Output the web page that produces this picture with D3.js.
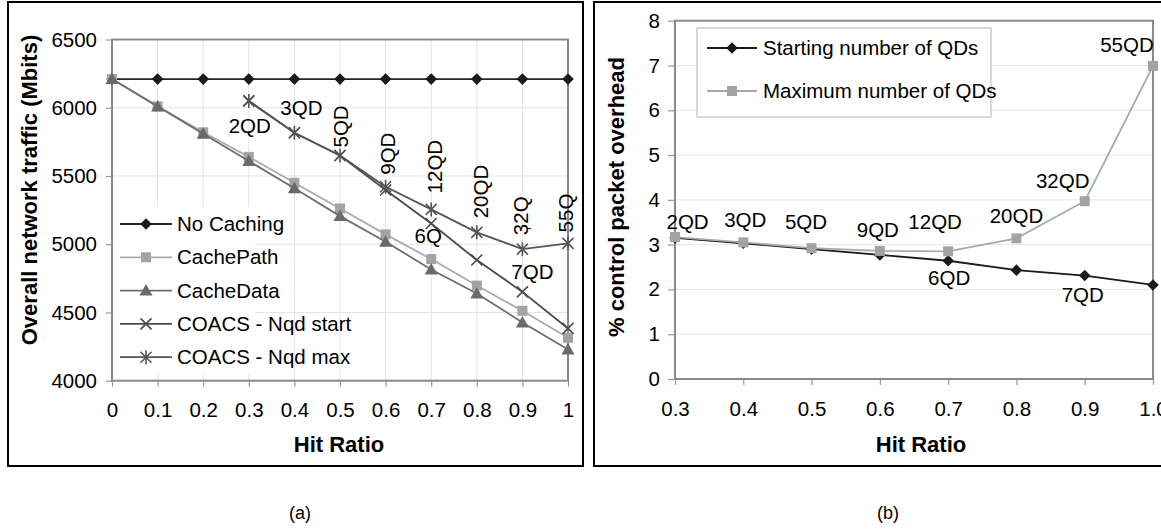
<!DOCTYPE html>
<html><head><meta charset="utf-8">
<script src="https://cdn.jsdelivr.net/npm/d3@7"></script>
<style>
html,body{margin:0;padding:0;background:#fff;}
svg text{font-family:"Liberation Sans",Arial,sans-serif;fill:#000;}
</style></head>
<body>
<svg id="c" width="1161" height="531"></svg>
<script>
// ---------- DATA ----------
const hitA = [0,0.1,0.2,0.3,0.4,0.5,0.6,0.7,0.8,0.9,1];
const noCaching = [6210,6210,6210,6210,6210,6210,6210,6210,6210,6210,6210];
const cachePath = [6210,6010,5820,5640,5450,5262,5072,4891,4697,4512,4314];
const cacheData = [6210,6010,5810,5610,5410,5206,5018,4815,4639,4427,4229];
const hitCoacs = [0.3,0.4,0.5,0.6,0.7,0.8,0.9,1];
const coacsStart = [6050,5817,5650,5397,5152,4884,4651,4383];
const coacsMax   = [6050,5817,5650,5421,5255,5087,4964,5006];
const yTicksA = [4000,4500,5000,5500,6000,6500];
const xTicksA = [0,0.1,0.2,0.3,0.4,0.5,0.6,0.7,0.8,0.9,1];
const labelsMax = ["","","5QD","9QD","12QD","20QD","32Q","55Q"];
const legendA = ["No Caching","CachePath","CacheData","COACS - Nqd start","COACS - Nqd max"];

const hitB = [0.3,0.4,0.5,0.6,0.7,0.8,0.9,1.0];
const startingQD = [3.15,3.03,2.90,2.77,2.64,2.43,2.31,2.10];
const maximumQD  = [3.17,3.05,2.92,2.86,2.85,3.14,3.97,6.99];
const labelsB = ["2QD","3QD","5QD","9QD","12QD","20QD","32QD","55QD"];
const yTicksB = [0,1,2,3,4,5,6,7,8];
const xTicksB = [0.3,0.4,0.5,0.6,0.7,0.8,0.9,1.0];
const legendB = ["Starting number of QDs","Maximum number of QDs"];

// ---------- HELPERS ----------
const svg = d3.select("#c");
const FS = 20.5;
function marker(g, type, x, y, color){
  if(type==="diamond"){
    g.append("path").attr("d",`M${x},${y-5.8}L${x+5.8},${y}L${x},${y+5.8}L${x-5.8},${y}Z`).attr("fill",color);
  } else if(type==="square"){
    g.append("rect").attr("x",x-5).attr("y",y-5).attr("width",10).attr("height",10).attr("fill",color);
  } else if(type==="triangle"){
    g.append("path").attr("d",`M${x},${y-6.5}L${x+6.5},${y+5}L${x-6.5},${y+5}Z`).attr("fill",color);
  } else if(type==="x"){
    g.append("path").attr("d",`M${x-5.5},${y-5.5}L${x+5.5},${y+5.5}M${x-5.5},${y+5.5}L${x+5.5},${y-5.5}`).attr("stroke",color).attr("stroke-width",1.6).attr("fill","none");
  } else if(type==="star"){
    g.append("path").attr("d",`M${x-5.5},${y-5.5}L${x+5.5},${y+5.5}M${x-5.5},${y+5.5}L${x+5.5},${y-5.5}M${x},${y-7}L${x},${y+7}`).attr("stroke",color).attr("stroke-width",1.6).attr("fill","none");
  }
}
function series(g, xs, ys, xS, yS, color, mcolor, type, lw){
  const line = d3.line().x((d,i)=>xS(xs[i])).y(d=>yS(d));
  g.append("path").datum(ys).attr("d",line).attr("fill","none").attr("stroke",color).attr("stroke-width",lw||1.8);
  ys.forEach((v,i)=>marker(g,type,xS(xs[i]),yS(v),mcolor));
}
function styleAxis(a){
  a.select(".domain").remove();
  a.selectAll("line").attr("stroke","#999").attr("stroke-width",1.2);
  a.selectAll("text").attr("font-size",FS).attr("fill","#000").style("font-family","Liberation Sans, Arial, sans-serif");
}

// ---------- PANEL BORDERS ----------
svg.append("rect").attr("x",8).attr("y",2).attr("width",575).attr("height",464).attr("fill","none").attr("stroke","#000").attr("stroke-width",2);
svg.append("rect").attr("x",594).attr("y",2).attr("width",580).attr("height",464).attr("fill","none").attr("stroke","#000").attr("stroke-width",2);

// ---------- CHART A ----------
const xA = d3.scaleLinear().domain([0,1]).range([112,568]);
const yA = d3.scaleLinear().domain([4000,6500]).range([380.7,39.5]);
const gA = svg.append("g");
gA.selectAll(".gv").data(xTicksA.slice(1,-1)).join("line").attr("x1",d=>xA(d)).attr("x2",d=>xA(d)).attr("y1",yA(6500)).attr("y2",yA(4000)).attr("stroke","#e4e4e4").attr("stroke-width",1);
gA.selectAll(".gh").data(yTicksA.slice(1,-1)).join("line").attr("x1",xA(0)).attr("x2",xA(1)).attr("y1",d=>yA(d)).attr("y2",d=>yA(d)).attr("stroke","#e4e4e4").attr("stroke-width",1);
const axLA = gA.append("g").attr("transform",`translate(${xA(0)},0)`).call(d3.axisLeft(yA).tickValues(yTicksA).tickSize(6).tickPadding(9).tickFormat(d3.format("d")));
const axBA = gA.append("g").attr("transform",`translate(0,${yA(4000)})`).call(d3.axisBottom(xA).tickValues(xTicksA).tickSize(6).tickPadding(16).tickFormat(d=>String(d)));
styleAxis(axLA); styleAxis(axBA);
gA.append("rect").attr("x",xA(0)).attr("y",yA(6500)).attr("width",xA(1)-xA(0)).attr("height",yA(4000)-yA(6500)).attr("fill","none").attr("stroke","#8a8a8a").attr("stroke-width",2);

series(gA,hitA,noCaching,xA,yA,"#262626","#1a1a1a","diamond");
series(gA,hitA,cachePath,xA,yA,"#ababab","#a3a3a3","square");
series(gA,hitA,cacheData,xA,yA,"#6e6e6e","#6a6a6a","triangle");
series(gA,hitCoacs,coacsStart,xA,yA,"#4a4a4a","#4a4a4a","x");
series(gA,hitCoacs,coacsMax,xA,yA,"#555","#555","star");

const ann = gA.append("g").attr("font-size",FS);
ann.append("text").attr("x",xA(0.3)+1).attr("y",yA(coacsStart[0])+32).attr("text-anchor","middle").text("2QD");
ann.append("text").attr("x",xA(0.4)+7).attr("y",yA(coacsStart[1])-18).attr("text-anchor","middle").text("3QD");
const rotOff = {2:[8,-8],3:[9.5,-12],4:[10.5,-16],5:[11,-14],6:[6,-14],7:[5,-11]};
labelsMax.forEach((t,i)=>{
  if(!t) return;
  const o = rotOff[i];
  ann.append("text").attr("transform",`translate(${xA(hitCoacs[i])+o[0]},${yA(coacsMax[i])+o[1]}) rotate(-90)`).attr("text-anchor","start").text(t);
});
ann.append("text").attr("x",xA(0.9)+7).attr("y",yA(coacsMax[6])-17).attr("font-size",13).attr("text-anchor","middle").text("-");
ann.append("text").attr("x",xA(0.7)-3).attr("y",yA(coacsStart[4])+20).attr("text-anchor","middle").text("6Q");
ann.append("text").attr("x",xA(0.9)+10).attr("y",yA(coacsStart[6])-13).attr("text-anchor","middle").text("7QD");

const lgA = gA.append("g");
lgA.append("rect").attr("x",115).attr("y",207).attr("width",140).attr("height",167).attr("fill","#fff");
const lgTypes = [["#262626","#1a1a1a","diamond"],["#ababab","#a3a3a3","square"],["#6e6e6e","#6a6a6a","triangle"],["#4a4a4a","#4a4a4a","x"],["#555","#555","star"]];
legendA.forEach((t,i)=>{
  const y = 224 + i*33.3;
  lgA.append("line").attr("x1",120).attr("x2",172).attr("y1",y).attr("y2",y).attr("stroke",lgTypes[i][0]).attr("stroke-width",1.8);
  marker(lgA,lgTypes[i][2],146,y,lgTypes[i][1]);
  lgA.append("text").attr("x",177).attr("y",y).attr("dy","0.35em").attr("font-size",FS).text(t);
});
svg.append("text").attr("transform","translate(37,190) rotate(-90)").attr("text-anchor","middle").attr("font-size",22).attr("font-weight","bold").text("Overall network traffic (Mbits)");
svg.append("text").attr("x",339).attr("y",452).attr("text-anchor","middle").attr("font-size",22).attr("font-weight","bold").text("Hit Ratio");
svg.append("text").attr("x",300).attr("y",519).attr("text-anchor","middle").attr("font-size",18).text("(a)");

// ---------- CHART B ----------
const xB = d3.scaleLinear().domain([0.3,1.0]).range([675,1153]);
const yB = d3.scaleLinear().domain([0,8]).range([379,20.7]);
const gB = svg.append("g");
gB.selectAll(".gh").data(yTicksB.slice(1,-1)).join("line").attr("x1",xB(0.3)).attr("x2",xB(1)).attr("y1",d=>yB(d)).attr("y2",d=>yB(d)).attr("stroke","#e6e6e6").attr("stroke-width",1);
const axLB = gB.append("g").attr("transform",`translate(${xB(0.3)},0)`).call(d3.axisLeft(yB).tickValues(yTicksB).tickSize(7).tickPadding(8).tickFormat(d3.format("d")));
const axBB = gB.append("g").attr("transform",`translate(0,${yB(0)})`).call(d3.axisBottom(xB).tickValues(xTicksB).tickSize(6).tickPadding(16).tickFormat(d3.format(".1f")));
styleAxis(axLB); styleAxis(axBB);
gB.append("rect").attr("x",xB(0.3)).attr("y",yB(8)).attr("width",xB(1)-xB(0.3)).attr("height",yB(0)-yB(8)).attr("fill","none").attr("stroke","#8a8a8a").attr("stroke-width",2);

series(gB,hitB,startingQD,xB,yB,"#1a1a1a","#1a1a1a","diamond");
series(gB,hitB,maximumQD,xB,yB,"#a8a8a8","#a3a3a3","square");

const offB = [[12.6,-8],[2,-15],[-5.6,-19],[-2,-14],[-13,-22],[0,-15],[-22,-13],[-26,-14]];
const annB = gB.append("g").attr("font-size",FS);
labelsB.forEach((t,i)=>{
  annB.append("text").attr("x",xB(hitB[i])+offB[i][0]).attr("y",yB(maximumQD[i])+offB[i][1]).attr("text-anchor","middle").text(t);
});
annB.append("text").attr("x",xB(0.7)+1).attr("y",yB(startingQD[4])+24).attr("text-anchor","middle").text("6QD");
annB.append("text").attr("x",xB(0.9)-2).attr("y",yB(startingQD[6])+26).attr("text-anchor","middle").text("7QD");

const lgB = gB.append("g");
lgB.append("rect").attr("x",697).attr("y",28).attr("width",294).attr("height",89).attr("fill","#fff").attr("stroke","#b5b5b5").attr("stroke-width",1);
const lgTypesB = [["#1a1a1a","#1a1a1a","diamond"],["#a8a8a8","#a3a3a3","square"]];
legendB.forEach((t,i)=>{
  const y = 48 + i*43;
  lgB.append("line").attr("x1",707).attr("x2",757).attr("y1",y).attr("y2",y).attr("stroke",lgTypesB[i][0]).attr("stroke-width",1.8);
  marker(lgB,lgTypesB[i][2],732,y,lgTypesB[i][1]);
  lgB.append("text").attr("x",763).attr("y",y).attr("dy","0.35em").attr("font-size",FS).text(t);
});
svg.append("text").attr("transform","translate(624,197) rotate(-90)").attr("text-anchor","middle").attr("font-size",22).attr("font-weight","bold").text("% control packet overhead");
svg.append("text").attr("x",921).attr("y",452).attr("text-anchor","middle").attr("font-size",22).attr("font-weight","bold").text("Hit Ratio");
svg.append("text").attr("x",888).attr("y",519).attr("text-anchor","middle").attr("font-size",18).text("(b)");
</script>
</body></html>
